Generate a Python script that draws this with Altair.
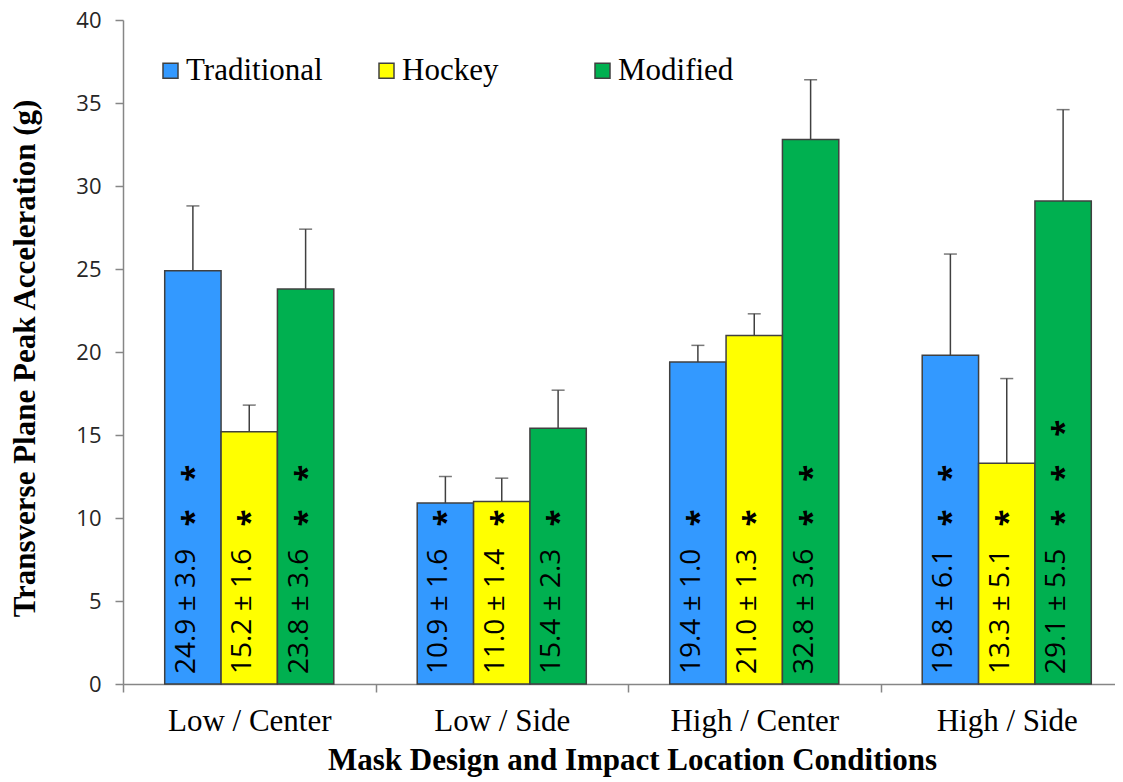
import altair as alt
import pandas as pd

conditions = ["Low / Center", "Low / Side", "High / Center", "High / Side"]
designs = ["Traditional", "Hockey", "Modified"]
means = {
    "Traditional": [24.9, 10.9, 19.4, 19.8],
    "Hockey": [15.2, 11.0, 21.0, 13.3],
    "Modified": [23.8, 15.4, 32.8, 29.1],
}
sds = {
    "Traditional": [3.9, 1.6, 1.0, 6.1],
    "Hockey": [1.6, 1.4, 1.3, 5.1],
    "Modified": [3.6, 2.3, 3.6, 5.5],
}
stars = {
    "Traditional": [2, 1, 1, 2],
    "Hockey": [1, 1, 1, 1],
    "Modified": [2, 1, 2, 3],
}
star_levels = [10.0, 12.7, 15.4]
colors = ["#3399FF", "#FFFF00", "#00B050"]

rows = []
star_rows = []
for d in designs:
    for i, c in enumerate(conditions):
        m = means[d][i]
        s = sds[d][i]
        rows.append({"condition": c, "design": d, "mean": m, "top": round(m + s, 2),
                     "zero": 0, "label": f"{m:.1f} \u00b1 {s:.1f}"})
        for k in range(stars[d][i]):
            star_rows.append({"condition": c, "design": d, "level": star_levels[k]})
df = pd.DataFrame(rows)
sdf = pd.DataFrame(star_rows)

GRAY = "#868686"
DARK = "#404040"

x_enc = alt.X(
    "condition:N", sort=conditions,
    scale=alt.Scale(range=[0, 1010], paddingInner=0, paddingOuter=0),
    axis=alt.Axis(
        title="Mask Design and Impact Location Conditions",
        titleFont="Liberation Serif", titleFontSize=31, titleFontWeight="bold",
        titleColor="black", titleX=509, titleY=85, titleBaseline="alphabetic",
        titleAlign="center",
        labelFont="Liberation Serif", labelFontSize=31, labelColor="black",
        labelAngle=0, labelPadding=14, labelLimit=400,
        tickSize=8, tickBand="extent", tickColor=GRAY, domainColor=GRAY,
        tickWidth=1.5, domainWidth=1.5,
    ),
)
xo_enc = alt.XOffset("design:N", sort=designs,
                     scale=alt.Scale(paddingOuter=0.74, paddingInner=0))

y_axis = alt.Axis(
    values=list(range(0, 41, 5)),
    title="Transverse Plane Peak Acceleration (g)",
    titleFont="Liberation Serif", titleFontSize=31, titleFontWeight="bold",
    titleColor="black", titleX=-89, titleY=338, titleAngle=270,
    titleAlign="center", titleBaseline="alphabetic",
    labelFont="Open Sans", labelFontSize=22, labelColor="#262626",
    labelPadding=14, tickSize=8, tickColor=GRAY, domainColor=GRAY,
    tickWidth=1.5, domainWidth=1.5, grid=False,
)
y_scale = alt.Scale(domain=[0, 40], nice=False)

base = alt.Chart(df)

bars = base.mark_bar(stroke=DARK, strokeWidth=1.5).encode(
    x=x_enc, xOffset=xo_enc,
    y=alt.Y("mean:Q", scale=y_scale, axis=y_axis),
    color=alt.Color(
        "design:N", sort=designs,
        scale=alt.Scale(domain=designs, range=colors),
        legend=alt.Legend(
            title=None, orient="none", legendX=32, legendY=35,
            direction="horizontal", columns=3, gridAlign="all",
            columnPadding=48, symbolType="square", symbolSize=225,
            symbolStrokeColor=DARK, symbolStrokeWidth=1.5,
            symbolOpacity=1, labelFont="Liberation Serif", labelFontSize=31,
            labelColor="black", labelOffset=0, labelLimit=300,
        ),
    ),
)

err = base.mark_rule(color=DARK, strokeWidth=1.5).encode(
    x=x_enc, xOffset=xo_enc,
    y=alt.Y("mean:Q", scale=y_scale, axis=y_axis), y2="top:Q",
)

caps = base.mark_tick(color=DARK, thickness=1.5, size=13).encode(
    x=x_enc, xOffset=xo_enc,
    y=alt.Y("top:Q", scale=y_scale, axis=y_axis),
)

labels = base.mark_text(
    angle=270, align="left", baseline="middle", dx=10, dy=-6,
    font="Open Sans", fontSize=28, color="black",
).encode(
    x=x_enc, xOffset=xo_enc,
    y=alt.Y("zero:Q", scale=y_scale, axis=y_axis),
    text="label:N",
)

star_marks = alt.Chart(sdf).mark_text(
    angle=270, align="center", baseline="middle", dy=2,
    font="Open Sans", fontSize=31, fontWeight="bold", color="black", text="*",
).encode(
    x=x_enc, xOffset=xo_enc,
    y=alt.Y("level:Q", scale=y_scale, axis=y_axis),
)

chart = alt.layer(bars, err, caps, labels, star_marks).properties(
    width=992, height=664,
    autosize=alt.AutoSizeParams(type="none"),
    padding={"left": 115, "top": 12, "right": 0, "bottom": 93},
).configure_view(stroke=None)

chart.save("out.html", embed_options={"renderer": "svg", "actions": False})
